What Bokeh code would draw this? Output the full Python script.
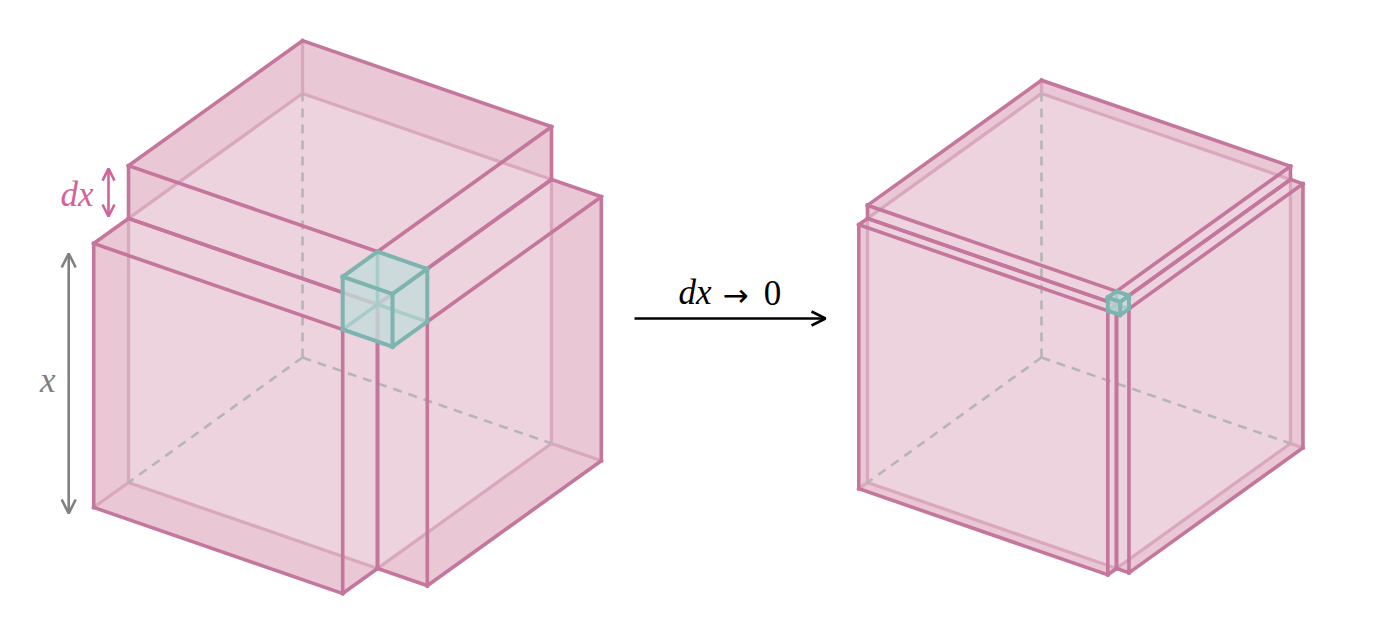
from bokeh.core.properties import value
from bokeh.embed import file_html
from bokeh.models import Arrow, OpenHead, Range1d
from bokeh.plotting import figure
from bokeh.resources import INLINE

# cube edge x and the slab thickness dx drawn in each panel
side = 1.0
dx_panels = [0.2, 0.05]

# which axis each dx slab sticks out of (a, b, z)
slab_names = ["top", "front", "right"]
slab_offsets = [(0, 0, 1), (0, 1, 0), (1, 0, 0)]

# labels
x_label = "x"
dx_label = "dx"
limit_labels = ["dx", "\u2192", "0"]

# projection (screen pixels per unit x)
ORIGINS = [(302, 357), (1041, 357)]
A_VEC = (249, 86)
B_VEC = (-174, 125)
Z_VEC = (0, -264)

DARK_FILL = "#e9c7d5"
LIGHT_FILL = "#edd3de"
EDGE = "#c4769c"
HIDDEN_EDGE = "#daa8be"
DASH = "#b5b5b5"
TEAL_FILL = "#c3dcda"
TEAL_EDGE = "#7db4b0"
TEAL_HIDDEN = "#a6cdc9"
GREY = "#808080"
DX_PINK = "#d2639a"
FONT = value("Liberation Serif")
LABEL_SIZE = "35px"

HEX_ORDER = [(1, 0, 0), (1, 0, 1), (0, 0, 1), (0, 1, 1), (0, 1, 0), (1, 1, 0)]


def slab_box(offset, d):
    lo = [side if o else 0 for o in offset]
    hi = [side + d if o else side for o in offset]
    return (lo[0], hi[0], lo[1], hi[1], lo[2], hi[2])


def project(origin, a, b, z):
    return (origin[0] + A_VEC[0] * a + B_VEC[0] * b + Z_VEC[0] * z,
            origin[1] + A_VEC[1] * a + B_VEC[1] * b + Z_VEC[1] * z)


def corner(origin, box, i, j, k):
    return project(origin, box[i], box[2 + j], box[4 + k])


def silhouette(origin, box):
    pts = [corner(origin, box, *c) for c in HEX_ORDER]
    return [p[0] for p in pts], [p[1] for p in pts]


def edges(origin, box):
    hidden, shown = ([], []), ([], [])
    for c0 in [(i, j, k) for i in (0, 1) for j in (0, 1) for k in (0, 1)]:
        for axis in range(3):
            if c0[axis] == 1:
                continue
            c1 = list(c0)
            c1[axis] = 1
            p0 = corner(origin, box, *c0)
            p1 = corner(origin, box, *c1)
            target = hidden if c0 == (0, 0, 0) else shown
            target[0].append([p0[0], p1[0]])
            target[1].append([p0[1], p1[1]])
    return hidden, shown


p = figure(width=1366, height=626, output_backend="svg", toolbar_location=None,
           x_range=Range1d(0, 1366), y_range=Range1d(626, 0), min_border=0)
p.axis.visible = False
p.grid.visible = False
p.outline_line_color = None
p.background_fill_color = "white"

for origin, d in zip(ORIGINS, dx_panels):
    slabs = [slab_box(o, d) for o in slab_offsets]
    cube = (0, side, 0, side, 0, side)
    small = (side, side + d, side, side + d, side, side + d)

    sil = [silhouette(origin, s) for s in slabs]
    p.patches([s[0] for s in sil], [s[1] for s in sil],
              fill_color=DARK_FILL, line_color=None)
    cx, cy = silhouette(origin, cube)
    p.patch(cx, cy, fill_color=LIGHT_FILL, line_color=None)

    hid_x, hid_y, vis_x, vis_y = [], [], [], []
    for s in slabs:
        (hx, hy), (vx, vy) = edges(origin, s)
        hid_x += hx
        hid_y += hy
        vis_x += vx
        vis_y += vy
    p.multi_line(hid_x, hid_y, line_color=HIDDEN_EDGE, line_width=3.3, line_cap="square")

    # hidden edges of the x^3 cube
    (dxs, dys), _ = edges(origin, cube)
    p.multi_line(dxs, dys, line_color=DASH, line_width=2.6, line_dash="9 7")

    p.multi_line(vis_x, vis_y, line_color=EDGE, line_width=3.6, line_cap="square")

    # the dx^3 corner cube
    sx, sy = silhouette(origin, small)
    p.patch(sx, sy, fill_color=TEAL_FILL, fill_alpha=0.8, line_color=None)
    (hx, hy), (vx, vy) = edges(origin, small)
    p.multi_line(hx, hy, line_color=TEAL_HIDDEN, line_width=3.3)
    p.multi_line(vx, vy, line_color=TEAL_EDGE, line_width=4, line_cap="square")

# dimension arrows on the exploded view
d0 = dx_panels[0]
left = ORIGINS[0]
xb = project(left, 0, side + d0, 0)
xt = project(left, 0, side + d0, side)
p.add_layout(Arrow(start=OpenHead(size=14, line_color=GREY, line_width=2.6),
                   end=OpenHead(size=14, line_color=GREY, line_width=2.6),
                   x_start=xt[0] - 25, y_start=xt[1] + 10,
                   x_end=xb[0] - 25, y_end=xb[1] + 6,
                   line_color=GREY, line_width=2.6))
p.text(x=[xt[0] - 46], y=[(xt[1] + xb[1]) / 2 + 5], text=[x_label],
       text_font=FONT, text_font_style="italic", text_font_size=LABEL_SIZE,
       text_color=GREY, text_align="center", text_baseline="middle")

db = project(left, 0, side, side)
dt = project(left, 0, side, side + d0)
p.add_layout(Arrow(start=OpenHead(size=12, line_color=DX_PINK, line_width=2.6),
                   end=OpenHead(size=12, line_color=DX_PINK, line_width=2.6),
                   x_start=dt[0] - 20, y_start=dt[1] + 3,
                   x_end=db[0] - 20, y_end=db[1] - 2,
                   line_color=DX_PINK, line_width=2.6))
p.text(x=[dt[0] - 35], y=[(dt[1] + db[1]) / 2 + 2], text=[dx_label],
       text_font=FONT, text_font_style="italic", text_font_size=LABEL_SIZE,
       text_color=DX_PINK, text_align="right", text_baseline="middle")

# the limit arrow between the two panels
p.add_layout(Arrow(end=OpenHead(size=14, line_color="black", line_width=2.6),
                   x_start=634, y_start=318, x_end=825, y_end=318,
                   line_color="black", line_width=2.6))
p.text(x=[711], y=[292], text=[limit_labels[0]], text_font=FONT,
       text_font_style="italic", text_font_size=LABEL_SIZE, text_color="black",
       text_align="right", text_baseline="middle")
p.text(x=[735], y=[294], text=[limit_labels[1]], text_font=value("DejaVu Sans"),
       text_font_size="31px", text_color="black",
       text_align="center", text_baseline="middle")
p.text(x=[772], y=[292], text=[limit_labels[2]], text_font=FONT,
       text_font_size=LABEL_SIZE, text_color="black",
       text_align="center", text_baseline="middle")

open("out.html", "w").write(file_html(p, INLINE))
